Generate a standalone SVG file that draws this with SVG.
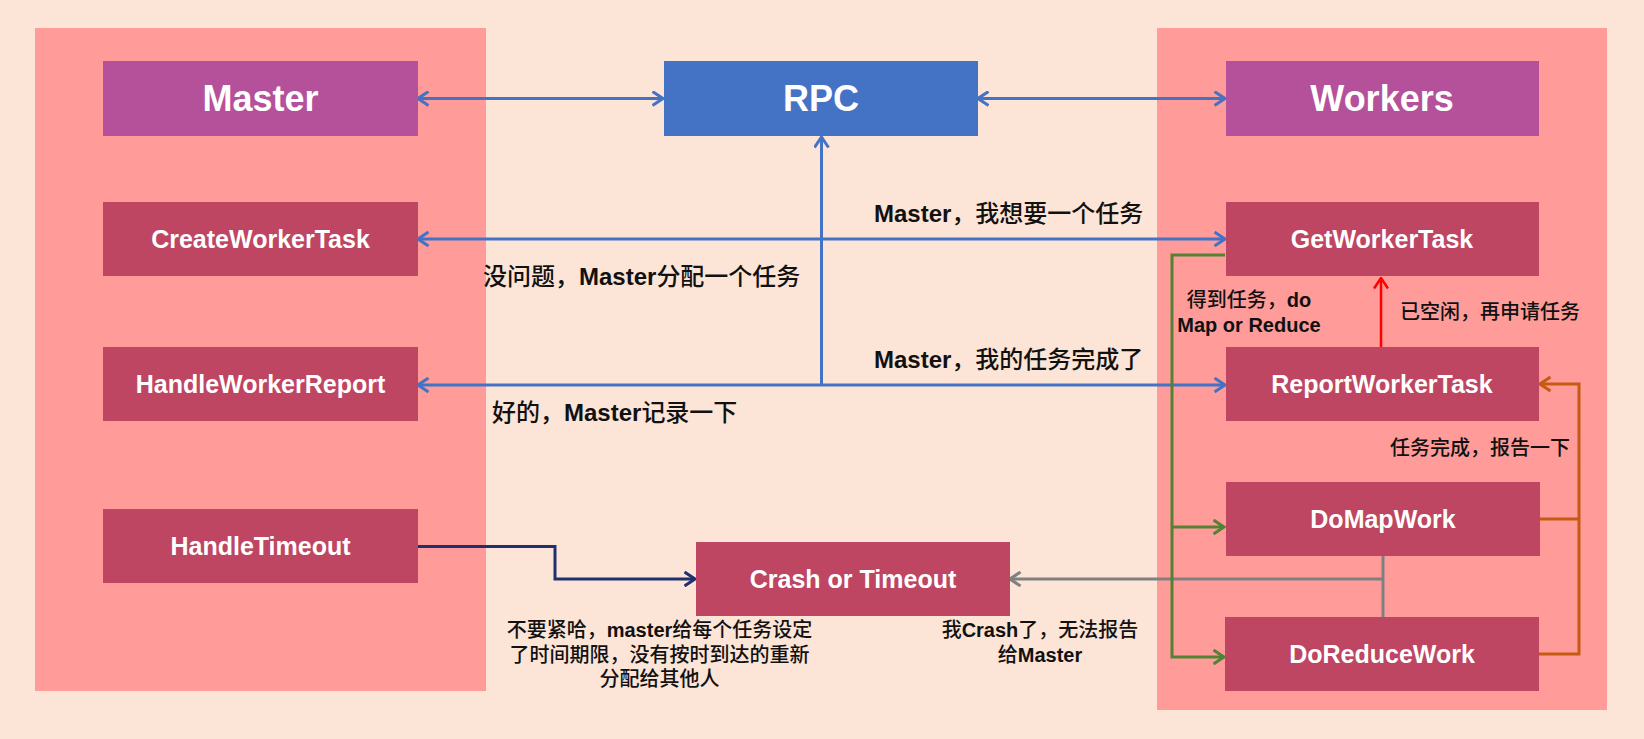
<svg xmlns="http://www.w3.org/2000/svg" width="1644" height="739" viewBox="0 0 1644 739">
<style>
.bg{fill:#FCE4D6}
.panel{fill:#FF9C99}
.node{fill:#BE4662}
.head{fill:#B5509A}
.rpc{fill:#4472C4}
.nt{font-family:"Liberation Sans","Noto Sans CJK SC",sans-serif;font-weight:bold;fill:#fff;text-anchor:middle;font-size:25px}
.ht{font-family:"Liberation Sans","Noto Sans CJK SC",sans-serif;font-weight:bold;fill:#fff;text-anchor:middle;font-size:36px}
.lb{font-family:"Liberation Sans","Noto Sans CJK SC",sans-serif;font-weight:500;fill:#111;font-size:24px}
.sm{font-family:"Liberation Sans","Noto Sans CJK SC",sans-serif;font-weight:500;fill:#111;font-size:20px}
.b{font-weight:bold}
.c{fill:none;stroke-width:3}
.blue{stroke:#4472C4}
.navy{stroke:#1F3070}
.gray{stroke:#808080}
.green{stroke:#548235}
.orange{stroke:#C55A11}
.red{stroke:#FF0000;stroke-width:2.5}
</style>
<defs>
<marker id="mb" viewBox="0 0 13 16" refX="11.5" refY="8" markerWidth="13" markerHeight="16" markerUnits="userSpaceOnUse" orient="auto-start-reverse"><path d="M1,1 L11.5,8 L1,15" fill="none" stroke="#4472C4" stroke-width="3"/></marker>
<marker id="mn" viewBox="0 0 13 16" refX="11.5" refY="8" markerWidth="13" markerHeight="16" markerUnits="userSpaceOnUse" orient="auto-start-reverse"><path d="M1,1 L11.5,8 L1,15" fill="none" stroke="#1F3070" stroke-width="3"/></marker>
<marker id="mg" viewBox="0 0 13 16" refX="11.5" refY="8" markerWidth="13" markerHeight="16" markerUnits="userSpaceOnUse" orient="auto-start-reverse"><path d="M1,1 L11.5,8 L1,15" fill="none" stroke="#808080" stroke-width="3"/></marker>
<marker id="mgr" viewBox="0 0 13 16" refX="11.5" refY="8" markerWidth="13" markerHeight="16" markerUnits="userSpaceOnUse" orient="auto-start-reverse"><path d="M1,1 L11.5,8 L1,15" fill="none" stroke="#548235" stroke-width="3"/></marker>
<marker id="mo" viewBox="0 0 13 16" refX="11.5" refY="8" markerWidth="13" markerHeight="16" markerUnits="userSpaceOnUse" orient="auto-start-reverse"><path d="M1,1 L11.5,8 L1,15" fill="none" stroke="#C55A11" stroke-width="3"/></marker>
<marker id="mr" viewBox="0 0 13 16" refX="11.5" refY="8" markerWidth="13" markerHeight="16" markerUnits="userSpaceOnUse" orient="auto-start-reverse"><path d="M1,1 L11.5,8 L1,15" fill="none" stroke="#FF0000" stroke-width="2.5"/></marker>
</defs>
<rect class="bg" x="0" y="0" width="1644" height="739"/>
<g id="master-panel"><rect class="panel" x="35" y="28" width="451" height="663"/></g>
<g id="workers-panel"><rect class="panel" x="1157" y="28" width="450" height="682"/></g>

<g id="connectors">
<path class="c blue" d="M418,98.5 H663" marker-start="url(#mb)" marker-end="url(#mb)"/>
<path class="c blue" d="M978,98.5 H1225" marker-start="url(#mb)" marker-end="url(#mb)"/>
<path class="c blue" d="M821.5,385 V137" marker-end="url(#mb)"/>
<path class="c blue" d="M418,239 H1225" marker-start="url(#mb)" marker-end="url(#mb)"/>
<path class="c blue" d="M418,385 H1225" marker-start="url(#mb)" marker-end="url(#mb)"/>
<path class="c navy" d="M418,546.5 H555 V579 H695" marker-end="url(#mn)"/>
<path class="c gray" d="M1383,556 V617"/>
<path class="c gray" d="M1383,579 H1010" marker-end="url(#mg)"/>
<path class="c green" d="M1225,255 H1172 V657 H1224" marker-end="url(#mgr)"/>
<path class="c green" d="M1172,527 H1224" marker-end="url(#mgr)"/>
<path class="c orange" d="M1540,519 H1579"/>
<path class="c orange" d="M1539,654 H1579 V384 H1540" marker-end="url(#mo)"/>
<path class="c red" d="M1381,347 V278" marker-end="url(#mr)"/>
</g>

<g id="master"><rect class="head" x="103" y="61" width="315" height="75"/><text class="ht" x="260.5" y="111">Master</text></g>
<g id="rpc"><rect class="rpc" x="664" y="61" width="314" height="75"/><text class="ht" x="821" y="111">RPC</text></g>
<g id="workers"><rect class="head" x="1226" y="61" width="313" height="75"/><text class="ht" x="1382" y="111">Workers</text></g>
<g id="create-worker-task"><rect class="node" x="103" y="202" width="315" height="74"/><text class="nt" x="260.5" y="248">CreateWorkerTask</text></g>
<g id="handle-worker-report"><rect class="node" x="103" y="347" width="315" height="74"/><text class="nt" x="260.5" y="393">HandleWorkerReport</text></g>
<g id="handle-timeout"><rect class="node" x="103" y="509" width="315" height="74"/><text class="nt" x="260.5" y="555">HandleTimeout</text></g>
<g id="get-worker-task"><rect class="node" x="1226" y="202" width="313" height="74"/><text class="nt" x="1382" y="248">GetWorkerTask</text></g>
<g id="report-worker-task"><rect class="node" x="1226" y="347" width="313" height="74"/><text class="nt" x="1382" y="393">ReportWorkerTask</text></g>
<g id="do-map-work"><rect class="node" x="1226" y="482" width="314" height="74"/><text class="nt" x="1383" y="528">DoMapWork</text></g>
<g id="do-reduce-work"><rect class="node" x="1225" y="617" width="314" height="74"/><text class="nt" x="1382" y="663">DoReduceWork</text></g>
<g id="crash-or-timeout"><rect class="node" x="696" y="542" width="314" height="74"/><text class="nt" x="853" y="588">Crash or Timeout</text></g>

<g id="labels">
<text class="lb" x="874" y="222"><tspan class="b">Master</tspan>，我想要一个任务</text>
<text class="lb" x="483" y="285">没问题，<tspan class="b">Master</tspan>分配一个任务</text>
<text class="lb" x="874" y="368"><tspan class="b">Master</tspan>，我的任务完成了</text>
<text class="lb" x="492" y="421">好的，<tspan class="b">Master</tspan>记录一下</text>
<text class="sm" x="1249" y="307" text-anchor="middle">得到任务，<tspan class="b">do</tspan></text>
<text class="sm b" x="1249" y="332" text-anchor="middle">Map or Reduce</text>
<text class="sm" x="1490" y="319" text-anchor="middle">已空闲，再申请任务</text>
<text class="sm" x="1480" y="455" text-anchor="middle">任务完成，报告一下</text>
<text class="sm" x="659.5" y="637" text-anchor="middle">不要紧哈，<tspan class="b">master</tspan>给每个任务设定</text>
<text class="sm" x="659.5" y="662" text-anchor="middle">了时间期限，没有按时到达的重新</text>
<text class="sm" x="659.5" y="686" text-anchor="middle">分配给其他人</text>
<text class="sm" x="1040" y="637" text-anchor="middle">我<tspan class="b">Crash</tspan>了，无法报告</text>
<text class="sm" x="1040" y="662" text-anchor="middle">给<tspan class="b">Master</tspan></text>
</g>
</svg>
